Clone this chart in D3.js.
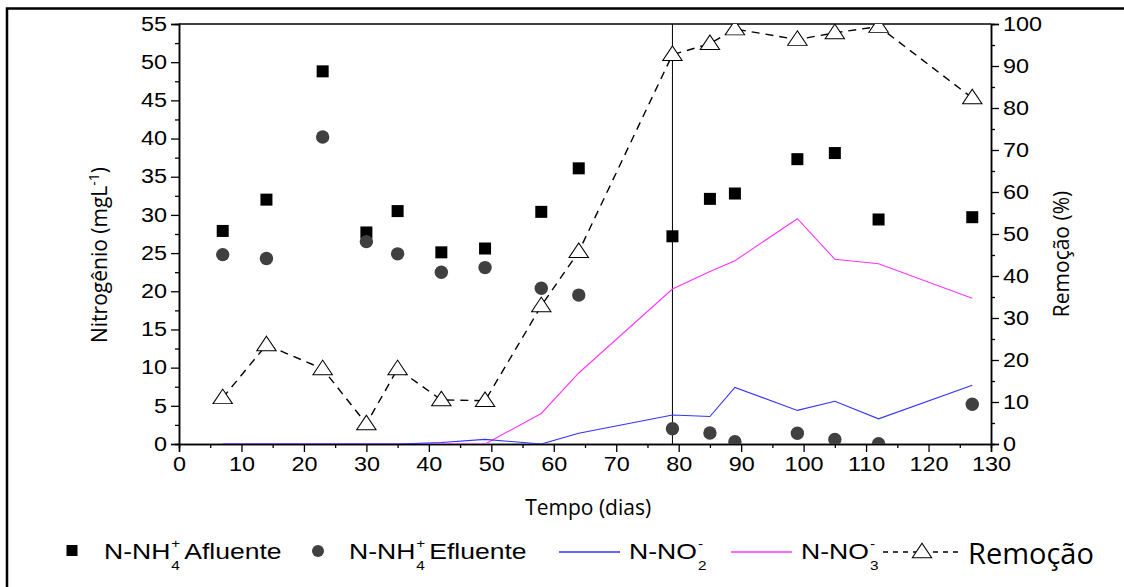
<!DOCTYPE html>
<html>
<head>
<meta charset="utf-8">
<script src="https://cdn.jsdelivr.net/npm/d3@7"></script>
<style>
  body { margin: 0; background: #fff; }
  svg { display: block; }
</style>
</head>
<body>
<svg class="chart"></svg>
<script>
// days of sampling
var days = [7, 14, 23, 30, 35, 42, 49, 58, 64, 79, 85, 89, 99, 105, 112, 127];
// mg/L
var afluente = [27.9, 32.0, 48.8, 27.7, 30.5, 25.1, 25.6, 30.4, 36.1, 27.2, 32.1, 32.8, 37.3, 38.1, 29.4, 29.7];
var efluente = [24.8, 24.3, 40.2, 26.5, 24.9, 22.5, 23.1, 20.4, 19.5, 2.0, 1.45, 0.3, 1.4, 0.6, 0.05, 5.2];
var nitrito = [0, 0, 0, 0, 0, 0.2, 0.6, 0, 1.4, 3.8, 3.6, 7.4, 4.4, 5.6, 3.3, 7.7];
var nitrato = [0, 0, 0, 0, 0, 0, 0, 4.0, 9.3, 20.3, 22.6, 24.0, 29.5, 24.2, 23.6, 19.1];
// %
var remocao = [11.0, 23.6, 17.9, 4.8, 17.9, 10.5, 10.3, 32.9, 45.8, 92.7, 95.3, 98.8, 96.3, 97.9, 99.4, 82.4];

var xTicks = d3.range(0, 131, 10);
var yLeftTicks = d3.range(0, 56, 5);
var yRightTicks = d3.range(0, 101, 10);
var marcoDia = 79;

var legendItems = [
    { tipo: "square", nome: "N-NH", sup: "+", sub: "4", resto: "Afluente" },
    { tipo: "circle", nome: "N-NH", sup: "+", sub: "4", resto: "Efluente" },
    { tipo: "blue", nome: "N-NO", sup: "-", sub: "2", resto: "" },
    { tipo: "pink", nome: "N-NO", sup: "-", sub: "3", resto: "" },
    { tipo: "tri", nome: "Remoção", sup: "", sub: "", resto: "" }
];

var W = 1124, H = 587;
var margin = { top: 24, left: 179, right: W - 991, bottom: H - 444 },
    width = W - margin.left - margin.right,
    height = H - margin.top - margin.bottom;

var svg = d3.select(".chart").attr("width", W).attr("height", H);

// outer frame (only top and left visible)
svg.append("path")
    .attr("d", "M7,600 L7,8.5 L1130,8.5")
    .attr("fill", "none").attr("stroke", "#000").attr("stroke-width", 2.5);

var chart = svg.append("g")
    .attr("transform", "translate(" + margin.left + "," + margin.top + ")");

var x = d3.scaleLinear().domain([0, 130]).range([0, width]);
var y = d3.scaleLinear().domain([0, 55]).range([height, 0]);
var y2 = d3.scaleLinear().domain([0, 100]).range([height, 0]);

chart.append("clipPath").attr("id", "plotclip")
    .append("rect").attr("width", width).attr("height", height);

var tickFont = "'Liberation Sans', Arial, sans-serif";

function styleAxis(g) {
    g.select(".domain").attr("stroke", "#000").attr("stroke-width", 1.5);
    g.selectAll(".tick line").attr("stroke", "#000").attr("stroke-width", 1.3);
    g.selectAll("text").attr("font-family", tickFont).attr("font-size", 19.5)
        .attr("fill", "#000").attr("transform", "scale(1.2,1)");
}

// minor ticks
chart.append("g")
    .call(d3.axisLeft(y).tickValues(d3.range(2.5, 55, 5)).tickSize(4).tickFormat(""))
    .call(styleAxis);
chart.append("g").attr("transform", "translate(" + width + ",0)")
    .call(d3.axisRight(y2).tickValues(d3.range(5, 100, 10)).tickSize(4).tickFormat(""))
    .call(styleAxis);
chart.append("g").attr("transform", "translate(0," + height + ")")
    .call(d3.axisBottom(x).tickValues(d3.range(5, 130, 10)).tickSize(4).tickFormat(""))
    .call(styleAxis);

// major axes
chart.append("g")
    .call(d3.axisLeft(y).tickValues(yLeftTicks).tickSize(8).tickPadding(2))
    .call(styleAxis);
chart.append("g").attr("transform", "translate(" + width + ",0)")
    .call(d3.axisRight(y2).tickValues(yRightTicks).tickSize(8).tickPadding(2))
    .call(styleAxis);
chart.append("g").attr("transform", "translate(0," + height + ")")
    .call(d3.axisBottom(x).tickValues(xTicks).tickSize(8).tickPadding(5))
    .call(styleAxis);

// top border
chart.append("line").attr("x1", 0).attr("x2", width).attr("y1", 0).attr("y2", 0)
    .attr("stroke", "#000").attr("stroke-width", 1.5);

// axis titles
var titleFont = "'Open Sans', 'Noto Sans', sans-serif";
var yTitle = chart.append("text")
    .attr("transform", "translate(-72," + (height / 2 + 21) + ") rotate(-90)")
    .attr("text-anchor", "middle").attr("font-family", titleFont).attr("font-size", 21);
yTitle.append("tspan").text("Nitrogênio (mgL");
yTitle.append("tspan").attr("dy", -8).attr("font-size", 14).text("-1");
yTitle.append("tspan").attr("dy", 8).text(")");

chart.append("text")
    .attr("transform", "translate(" + (width + 78) + "," + (height / 2 + 20) + ") rotate(-90)")
    .attr("text-anchor", "middle").attr("font-family", titleFont).attr("font-size", 21)
    .text("Remoção (%)");

chart.append("text")
    .attr("x", x(65.5)).attr("y", height + 71)
    .attr("text-anchor", "middle").attr("font-family", titleFont).attr("font-size", 21)
    .text("Tempo (dias)");

var plot = chart.append("g").attr("clip-path", "url(#plotclip)");

// vertical marker line
plot.append("line")
    .attr("x1", x(marcoDia)).attr("x2", x(marcoDia))
    .attr("y1", 0).attr("y2", height)
    .attr("stroke", "#000").attr("stroke-width", 1);

var lineN = function(vals) {
    return d3.line()
        .x(function(d, i) { return x(days[i]); })
        .y(function(d) { return y(d); })(vals);
};

plot.append("path").attr("d", lineN(nitrato))
    .attr("fill", "none").attr("stroke", "#ff33ff").attr("stroke-width", 1.1);
plot.append("path").attr("d", lineN(nitrito))
    .attr("fill", "none").attr("stroke", "#3333ff").attr("stroke-width", 1.1);

// afluente squares
var sq = 12;
plot.selectAll("rect.afl").data(afluente).enter().append("rect")
    .attr("class", "afl")
    .attr("x", function(d, i) { return x(days[i]) - sq / 2; })
    .attr("y", function(d) { return y(d) - sq / 2; })
    .attr("width", sq).attr("height", sq)
    .attr("fill", "#000");

// efluente circles
plot.selectAll("circle.efl").data(efluente).enter().append("circle")
    .attr("class", "efl")
    .attr("cx", function(d, i) { return x(days[i]); })
    .attr("cy", function(d) { return y(d); })
    .attr("r", 6.7)
    .attr("fill", "#404040");

// remocao dashed + triangles
var lineR = d3.line()
    .x(function(d, i) { return x(days[i]); })
    .y(function(d) { return y2(d); });
plot.append("path").attr("d", lineR(remocao))
    .attr("fill", "none").attr("stroke", "#000").attr("stroke-width", 1.4)
    .attr("stroke-dasharray", "8,6");

var tri = d3.symbol().type(d3.symbolTriangle).size(135);
plot.selectAll("path.rem").data(remocao).enter().append("path")
    .attr("class", "rem")
    .attr("d", tri)
    .attr("transform", function(d, i) { return "translate(" + x(days[i]) + "," + (y2(d) + 1) + ") scale(1.1,0.95)"; })
    .attr("fill", "#fff").attr("stroke", "#000").attr("stroke-width", 1);

// legend
var legX = [72, 318, 559, 731, 883];
var legTextX = [104, 349, 629, 801, 968];
var legY = 559;
var legend = svg.append("g");

legendItems.forEach(function(it, i) {
    var g = legend.append("g");
    if (it.tipo === "square") {
        g.append("rect").attr("x", legX[i] - 5.5).attr("y", legY - 14).attr("width", 11).attr("height", 11).attr("fill", "#000");
    } else if (it.tipo === "circle") {
        g.append("circle").attr("cx", legX[i]).attr("cy", legY - 8).attr("r", 6).attr("fill", "#404040");
    } else if (it.tipo === "blue" || it.tipo === "pink") {
        g.append("line").attr("x1", legX[i]).attr("x2", legX[i] + 61)
            .attr("y1", legY - 7).attr("y2", legY - 7)
            .attr("stroke", it.tipo === "blue" ? "#3333ff" : "#ff33ff").attr("stroke-width", 1.3);
    } else {
        g.append("line").attr("x1", legX[i]).attr("x2", legX[i] + 79)
            .attr("y1", legY - 7).attr("y2", legY - 7)
            .attr("stroke", "#000").attr("stroke-width", 1.3).attr("stroke-dasharray", "5,5");
        g.append("path").attr("d", tri)
            .attr("transform", "translate(" + (legX[i] + 39) + "," + (legY - 6) + ") scale(1.1,0.95)")
            .attr("fill", "#fff").attr("stroke", "#000").attr("stroke-width", 1);
    }
    if (it.tipo === "tri") {
        g.append("text").attr("x", legTextX[i]).attr("y", legY + 5)
            .attr("font-family", titleFont).attr("font-size", 29).text(it.nome);
        return;
    }
    // base text, stretched a bit like the reference
    var base = g.append("g")
        .attr("transform", "translate(" + legTextX[i] + "," + legY + ") scale(1.18,1)");
    base.append("text").attr("font-family", tickFont).attr("font-size", 22.5).text(it.nome);
    var w = it.nome === "N-NH" ? 57 : 58.5;
    base.append("text").attr("x", w).attr("y", -11)
        .attr("font-family", tickFont).attr("font-size", 13).text(it.sup);
    base.append("text").attr("x", w).attr("y", 11)
        .attr("font-family", tickFont).attr("font-size", 13).text(it.sub);
    if (it.resto) {
        base.append("text").attr("x", w + 11)
            .attr("font-family", tickFont).attr("font-size", 22.5).text(it.resto);
    }
});
</script>
</body>
</html>
